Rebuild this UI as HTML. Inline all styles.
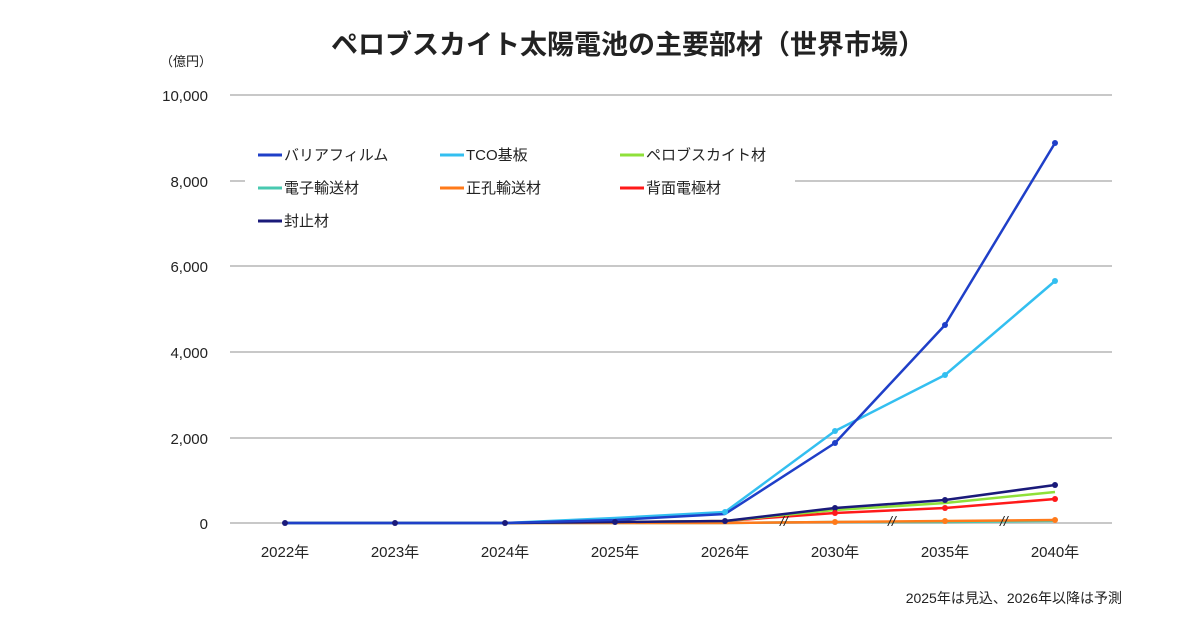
<!DOCTYPE html>
<html><head><meta charset="utf-8"><style>
body{margin:0;background:#fff;}
svg text{font-family:"Liberation Sans","Noto Sans CJK JP",sans-serif;fill:#222;}
</style></head><body>
<svg width="1200" height="630" xmlns="http://www.w3.org/2000/svg">
<text x="628" y="54" font-size="27" font-weight="bold" text-anchor="middle" fill="#111">ペロブスカイト太陽電池の主要部材（世界市場）</text>
<text x="160" y="66" font-size="13">（億円）</text>
<g stroke="#c8c8c8" stroke-width="2">
<line x1="230" y1="95" x2="1112" y2="95"/><line x1="230" y1="181" x2="1112" y2="181"/>
<line x1="230" y1="266" x2="1112" y2="266"/><line x1="230" y1="352" x2="1112" y2="352"/>
<line x1="230" y1="438" x2="1112" y2="438"/><line x1="230" y1="523" x2="1112" y2="523"/>
</g>
<rect x="245" y="138" width="550" height="100" fill="#fff"/>
<g font-size="15" text-anchor="end">
<text x="208" y="101">10,000</text><text x="208" y="187">8,000</text><text x="208" y="272">6,000</text>
<text x="208" y="358">4,000</text><text x="208" y="444">2,000</text><text x="208" y="529">0</text>
</g>
<g font-size="15" text-anchor="middle">
<text x="285" y="557">2022年</text><text x="395" y="557">2023年</text><text x="505" y="557">2024年</text>
<text x="615" y="557">2025年</text><text x="725" y="557">2026年</text><text x="835" y="557">2030年</text>
<text x="945" y="557">2035年</text><text x="1055" y="557">2040年</text>
</g>
<text x="1122" y="603" font-size="14" text-anchor="end">2025年は見込、2026年以降は予測</text>
<g fill="none" stroke-width="2.5" stroke-linejoin="round">
<polyline stroke="#48c9b0" points="285,523 395,523 505,523 615,523 725,523 835,522 945,522 1055,521"/>
<polyline stroke="#ff7a1a" points="285,523 395,523 505,523 615,523 725,523 835,522 945,521 1055,520"/>
<polyline stroke="#ff1a1a" points="285,523 395,523 505,523 615,522 725,521 835,513 945,508 1055,499"/>
<polyline stroke="#8fe03a" points="285,523 395,523 505,523 615,522 725,521 835,510 945,503 1055,492"/>
<polyline stroke="#1a1a7a" points="285,523 395,523 505,523 615,522 725,521 835,508 945,500 1055,485"/>
<polyline stroke="#33bff0" points="285,523 395,523 505,523 615,518 725,512 835,431 945,375 1055,281"/>
<polyline stroke="#1f3fc8" points="285,523 395,523 505,523 615,520 725,514 835,443 945,325 1055,143"/>
</g>
<g fill="#1f3fc8"><circle cx="835" cy="443" r="3"/><circle cx="945" cy="325" r="3"/><circle cx="1055" cy="143" r="3"/></g>
<g fill="#33bff0"><circle cx="835" cy="431" r="3"/><circle cx="945" cy="375" r="3"/><circle cx="1055" cy="281" r="3"/><circle cx="725" cy="512" r="3"/></g>
<g fill="#1a1a7a"><circle cx="835" cy="508" r="3"/><circle cx="945" cy="500" r="3"/><circle cx="1055" cy="485" r="3"/><circle cx="725" cy="521" r="3"/><circle cx="615" cy="522" r="3"/><circle cx="505" cy="523" r="3"/><circle cx="395" cy="523" r="3"/><circle cx="285" cy="523" r="3"/></g>
<g fill="#ff1a1a"><circle cx="835" cy="513" r="3"/><circle cx="945" cy="508" r="3"/><circle cx="1055" cy="499" r="3"/></g>
<g fill="#ff7a1a"><circle cx="835" cy="522" r="3"/><circle cx="945" cy="521" r="3"/><circle cx="1055" cy="520" r="3"/></g>
<g font-size="14" font-style="italic" fill="#444"><text x="780" y="526">//</text><text x="888" y="526">//</text><text x="1000" y="526">//</text></g>
<g stroke-width="3">
<line x1="258" y1="155" x2="282" y2="155" stroke="#1f3fc8"/><line x1="440" y1="155" x2="464" y2="155" stroke="#33bff0"/>
<line x1="620" y1="155" x2="644" y2="155" stroke="#8fe03a"/><line x1="258" y1="188" x2="282" y2="188" stroke="#48c9b0"/>
<line x1="440" y1="188" x2="464" y2="188" stroke="#ff7a1a"/><line x1="620" y1="188" x2="644" y2="188" stroke="#ff1a1a"/>
<line x1="258" y1="221" x2="282" y2="221" stroke="#1a1a7a"/>
</g>
<g font-size="15">
<text x="284" y="160">バリアフィルム</text><text x="466" y="160">TCO基板</text><text x="646" y="160">ペロブスカイト材</text>
<text x="284" y="193">電子輸送材</text><text x="466" y="193">正孔輸送材</text><text x="646" y="193">背面電極材</text>
<text x="284" y="226">封止材</text>
</g>
</svg>
</body></html>
